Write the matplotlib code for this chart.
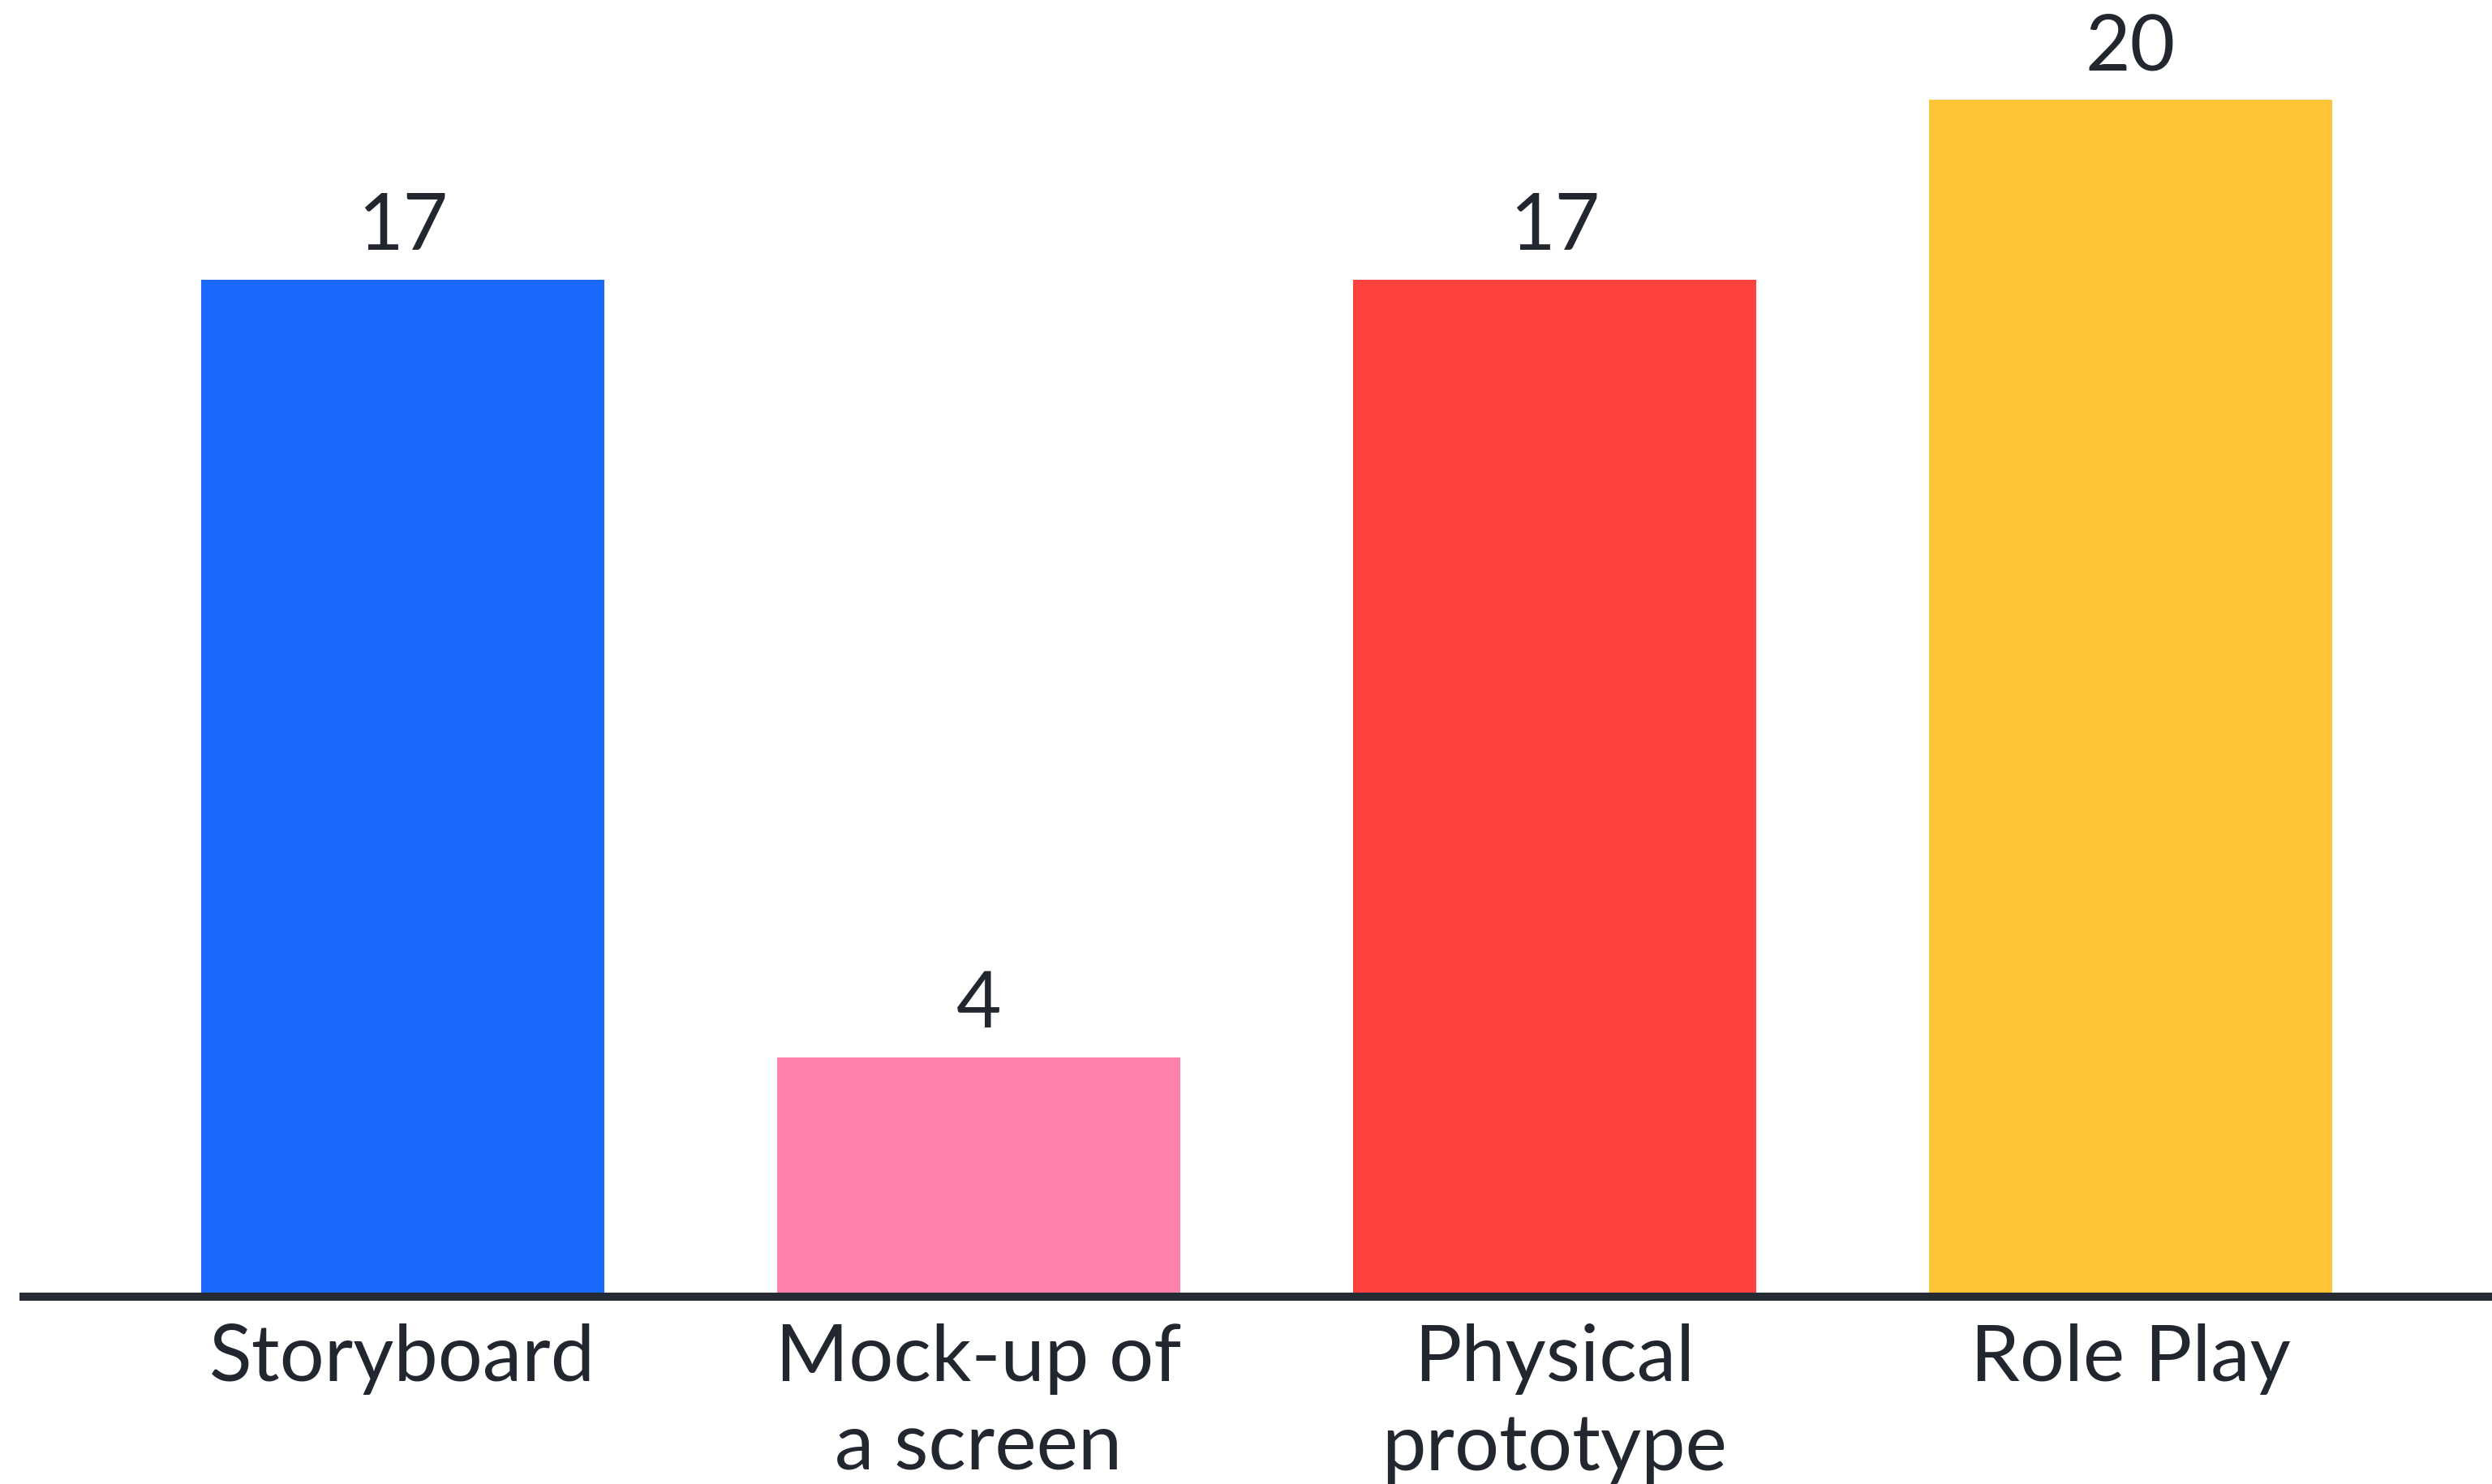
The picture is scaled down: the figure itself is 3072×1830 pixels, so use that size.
import matplotlib
matplotlib.use("Agg")
import matplotlib.pyplot as plt

categories = ["Storyboard", "Mock-up of\na screen", "Physical\nprototype", "Role Play"]
counts = [17, 4, 17, 20]
bar_colors = ["#1B6AFF", "#FF82AB", "#FF4240", "#FDC436"]

plt.rcParams['font.family'] = ['Lato', 'DejaVu Sans']
text_color = "#22262E"

fig = plt.figure(figsize=(30.72, 18.30), dpi=100)
ax = fig.add_axes([0.0095, 0.1262, 0.9905, 0.8738])

x = range(len(categories))
bars = ax.bar(x, counts, width=0.70, color=bar_colors, zorder=2)
ax.bar_label(bars, labels=[str(c) for c in counts], padding=14,
             fontsize=69, color=text_color)

ax.set_xlim(-0.658, 3.628)
ax.set_ylim(0, 21.67)
ax.set_xticks(list(x))
ax.set_xticklabels(categories, fontsize=70, color=text_color, linespacing=1.3)
ax.tick_params(axis='x', length=0, pad=24)
ax.set_yticks([])

for side in ['top', 'right', 'left']:
    ax.spines[side].set_visible(False)
ax.spines['bottom'].set_linewidth(7.2)
ax.spines['bottom'].set_color("#262A33")
ax.spines['bottom'].set_zorder(3)

fig.savefig("out.png", dpi=100, facecolor="white")
